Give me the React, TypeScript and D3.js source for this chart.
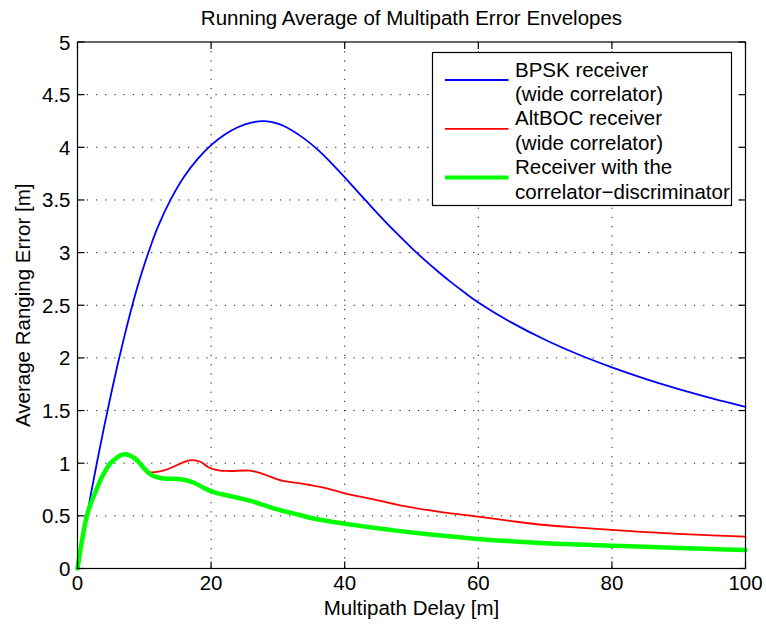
import React from "react";
import * as d3 from "d3";

// ---- data ----
const bpskDelay = [0, 1, 2, 3, 4, 5, 6, 7, 8, 9, 10, 11, 12, 14, 16, 18, 20, 22, 24, 26, 28, 30, 32, 34, 36, 38, 40, 42, 44, 46, 48, 50, 52, 54, 56, 58, 60, 65, 70, 75, 80, 85, 90, 95, 100];
const bpskError = [0, 0.36, 0.705, 1.035, 1.35, 1.65, 1.935, 2.2, 2.45, 2.68, 2.885, 3.07, 3.24, 3.51, 3.725, 3.89, 4.02, 4.12, 4.19, 4.235, 4.248, 4.225, 4.165, 4.08, 3.975, 3.85, 3.715, 3.575, 3.435, 3.3, 3.17, 3.045, 2.928, 2.818, 2.715, 2.618, 2.527, 2.335, 2.172, 2.032, 1.91, 1.801, 1.704, 1.616, 1.536];

const altbocDelay = [0, 0.5, 1, 1.4, 2, 2.6, 3.3, 4.1, 4.8, 5.6, 6.3, 7.1, 7.8, 8.6, 9.3, 10.1, 10.8, 11.6, 13.1, 14.6, 16.1, 17.1, 18.4, 19.6, 21.1, 22.8, 25.8, 27.8, 30.8, 33.3, 34.8, 37.3, 40, 44.3, 48.3, 54, 60, 65, 70, 75, 80, 85, 90, 95, 100];
const altbocError = [0, 0.2, 0.38, 0.5, 0.62, 0.71, 0.82, 0.92, 0.99, 1.037, 1.07, 1.085, 1.075, 1.046, 1.0, 0.945, 0.915, 0.916, 0.935, 0.973, 1.014, 1.03, 1.014, 0.962, 0.932, 0.926, 0.929, 0.897, 0.831, 0.809, 0.793, 0.761, 0.714, 0.657, 0.6, 0.54, 0.492, 0.45, 0.413, 0.388, 0.366, 0.346, 0.328, 0.314, 0.302];

const cdDelay = [0, 0.5, 1, 1.4, 2, 2.6, 3.3, 4.1, 4.8, 5.6, 6.3, 7.1, 7.8, 8.6, 9.3, 10.1, 10.8, 11.6, 13.1, 14.6, 16.1, 17.6, 19.1, 20.6, 22.8, 25.8, 28, 30.8, 33.3, 34.8, 37, 40, 44, 48.3, 54, 60, 65, 70, 75, 80, 85, 90, 95, 100];
const cdError = [0, 0.2, 0.38, 0.5, 0.62, 0.71, 0.82, 0.92, 0.99, 1.037, 1.07, 1.085, 1.075, 1.046, 1.0, 0.942, 0.9, 0.872, 0.853, 0.853, 0.84, 0.81, 0.76, 0.72, 0.689, 0.644, 0.6, 0.546, 0.508, 0.482, 0.455, 0.425, 0.39, 0.355, 0.315, 0.28, 0.258, 0.239, 0.227, 0.217, 0.206, 0.195, 0.185, 0.176];

const xTicks = [0, 20, 40, 60, 80, 100];
const yTicks = [0, 0.5, 1, 1.5, 2, 2.5, 3, 3.5, 4, 4.5, 5];

const titleText = "Running Average of Multipath Error Envelopes";
const xLabel = "Multipath Delay [m]";
const yLabel = "Average Ranging Error [m]";
const legendLines = [
  ["BPSK receiver", "(wide correlator)"],
  ["AltBOC receiver", "(wide correlator)"],
  ["Receiver with the", "correlator\u2212discriminator"],
];

const W = 766;
const H = 628;
const L = 77.5, R = 745.5, T = 42, B = 568.5;
const FONT = "'Liberation Sans', Arial, Helvetica, sans-serif";
const FS = 20.5;

export default function App() {
  const x = d3.scaleLinear().domain([0, 100]).range([L, R]);
  const y = d3.scaleLinear().domain([0, 5]).range([B, T]);
  const line = d3
    .line<[number, number]>()
    .x((d) => x(d[0]))
    .y((d) => y(d[1]))
    .curve(d3.curveCatmullRom.alpha(0.5));

  const series = [
    { xs: bpskDelay, ys: bpskError, color: "#0000ff", w: 1.8 },
    { xs: altbocDelay, ys: altbocError, color: "#ff0000", w: 1.8 },
    { xs: cdDelay, ys: cdError, color: "#00ff00", w: 4.5 },
  ];

  const gridDash = "1.3 7.9";
  const tickLen = 7;

  // legend geometry
  const lgX = 432.5, lgY = 52.5, lgW = 299, lgH = 153;
  const rowH = 24.4;
  const firstBase = 76.5;

  return (
    <svg
      width={W}
      height={H}
      style={{ position: "absolute", left: 0, top: 0, background: "#fff" }}
      fontFamily={FONT}
    >
      <rect x={0} y={0} width={W} height={H} fill="#fff" />
      {/* grid */}
      {xTicks.slice(1, -1).map((t) => (
        <line key={"gx" + t} x1={x(t)} x2={x(t)} y1={T} y2={B} stroke="#222" strokeWidth={1} strokeDasharray={gridDash} />
      ))}
      {yTicks.slice(1, -1).map((t) => (
        <line key={"gy" + t} x1={L} x2={R} y1={y(t)} y2={y(t)} stroke="#222" strokeWidth={1} strokeDasharray={gridDash} />
      ))}
      {/* curves */}
      {series.map((s, i) => (
        <path
          key={i}
          d={line(s.xs.map((v, j) => [v, s.ys[j]] as [number, number])) || ""}
          fill="none"
          stroke={s.color}
          strokeWidth={s.w}
          strokeLinejoin="round"
          strokeLinecap="round"
        />
      ))}
      {/* axes box */}
      <rect x={L} y={T} width={R - L} height={B - T} fill="none" stroke="#000" strokeWidth={1.2} />
      {/* ticks */}
      {xTicks.map((t) => (
        <g key={"tx" + t}>
          <line x1={x(t)} x2={x(t)} y1={B} y2={B - tickLen} stroke="#000" strokeWidth={1.2} />
          <line x1={x(t)} x2={x(t)} y1={T} y2={T + tickLen} stroke="#000" strokeWidth={1.2} />
          <text x={x(t)} y={590} textAnchor="middle" fontSize={FS} fill="#000">
            {t}
          </text>
        </g>
      ))}
      {yTicks.map((t) => (
        <g key={"ty" + t}>
          <line x1={L} x2={L + tickLen} y1={y(t)} y2={y(t)} stroke="#000" strokeWidth={1.2} />
          <line x1={R} x2={R - tickLen} y1={y(t)} y2={y(t)} stroke="#000" strokeWidth={1.2} />
          <text x={70.5} y={y(t) + 7.5} textAnchor="end" fontSize={FS} fill="#000">
            {t}
          </text>
        </g>
      ))}
      {/* labels */}
      <text x={(L + R) / 2} y={25} textAnchor="middle" fontSize={FS} fill="#000">
        {titleText}
      </text>
      <text x={(L + R) / 2} y={614.5} textAnchor="middle" fontSize={FS} fill="#000">
        {xLabel}
      </text>
      <text
        transform={`translate(30,${(T + B) / 2}) rotate(-90)`}
        textAnchor="middle"
        fontSize={FS}
        fill="#000"
      >
        {yLabel}
      </text>
      {/* legend */}
      <rect x={lgX} y={lgY} width={lgW} height={lgH} fill="#fff" stroke="#000" strokeWidth={1.2} />
      {legendLines.map((rows, i) => (
        <g key={"lg" + i}>
          <line
            x1={445}
            x2={508.5}
            y1={80 + i * 2 * rowH}
            y2={80 + i * 2 * rowH}
            stroke={series[i].color}
            strokeWidth={i === 2 ? 4 : 1.8}
          />
          {rows.map((r, k) => (
            <text key={k} x={515} y={firstBase + (i * 2 + k) * rowH} fontSize={FS} fill="#000">
              {r}
            </text>
          ))}
        </g>
      ))}
    </svg>
  );
}
